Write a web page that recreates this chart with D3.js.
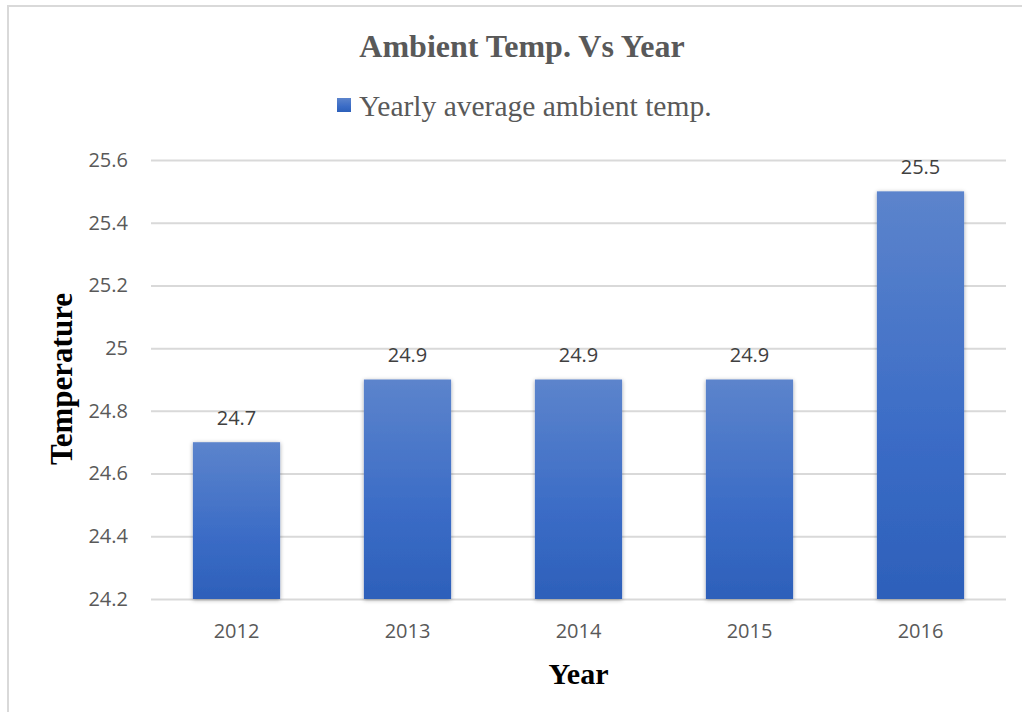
<!DOCTYPE html>
<html>
<head>
<meta charset="utf-8">
<script src="https://cdn.jsdelivr.net/npm/d3@7"></script>
<style>
  html, body { margin: 0; padding: 0; background: #fff; }
  svg { display: block; }
</style>
</head>
<body>
<svg id="chart" width="1022" height="712"></svg>
<script>
// Yearly average ambient temperature
const years = ["2012", "2013", "2014", "2015", "2016"];
const temps = [24.7, 24.9, 24.9, 24.9, 25.5];
const yTicks = [24.2, 24.4, 24.6, 24.8, 25, 25.2, 25.4, 25.6];
const seriesName = "Yearly average ambient temp.";
const chartTitle = "Ambient Temp. Vs Year";

const svg = d3.select("#chart");
const plot = { left: 151, right: 1006, top: 160, bottom: 599 };

// Outer chart frame
svg.append("rect")
  .attr("x", 8).attr("y", 6)
  .attr("width", 1040).attr("height", 740)
  .attr("fill", "none")
  .attr("stroke", "#d9d9d9")
  .attr("stroke-width", 2);

const defs = svg.append("defs");
const grad = defs.append("linearGradient")
  .attr("id", "barFill")
  .attr("x1", 0).attr("y1", 0).attr("x2", 0).attr("y2", 1);
grad.append("stop").attr("offset", "0%").attr("stop-color", "#5c84cc");
grad.append("stop").attr("offset", "60%").attr("stop-color", "#3b6cc6");
grad.append("stop").attr("offset", "100%").attr("stop-color", "#2d60ba");

const shadow = defs.append("filter")
  .attr("id", "barShadow")
  .attr("x", "-20%").attr("y", "-5%").attr("width", "140%").attr("height", "110%");
shadow.append("feDropShadow")
  .attr("dx", 0).attr("dy", 1)
  .attr("stdDeviation", 2)
  .attr("flood-color", "#000")
  .attr("flood-opacity", 0.35);

const x = d3.scaleBand()
  .domain(years)
  .range([plot.left, plot.right])
  .paddingInner(0.49)
  .paddingOuter(0.245);

const y = d3.scaleLinear()
  .domain([24.2, 25.6])
  .range([plot.bottom, plot.top]);

// Horizontal gridlines
const yAxis = d3.axisLeft(y)
  .tickValues(yTicks)
  .tickSize(-(plot.right - plot.left))
  .tickPadding(23)
  .tickFormat(d3.format("~g"));

const gy = svg.append("g")
  .attr("transform", `translate(${plot.left},0)`)
  .call(yAxis);
gy.select(".domain").remove();
gy.selectAll(".tick line")
  .attr("stroke", "#d9d9d9")
  .attr("stroke-width", 2);
gy.selectAll(".tick text")
  .attr("fill", "#595959")
  .style("font-family", "'Open Sans', sans-serif")
  .style("font-size", "20px");

// X axis labels
const xAxis = d3.axisBottom(x).tickSize(0).tickPadding(25);
const gx = svg.append("g")
  .attr("transform", `translate(0,${plot.bottom})`)
  .call(xAxis);
gx.select(".domain").remove();
gx.selectAll(".tick text")
  .attr("fill", "#595959")
  .style("font-family", "'Open Sans', sans-serif")
  .style("font-size", "20px");

// Bars
svg.append("g")
  .selectAll("rect")
  .data(temps)
  .join("rect")
  .attr("x", (d, i) => x(years[i]))
  .attr("y", d => y(d))
  .attr("width", x.bandwidth())
  .attr("height", d => y(24.2) - y(d))
  .attr("fill", "url(#barFill)")
  .attr("filter", "url(#barShadow)");

// Value labels
svg.append("g")
  .selectAll("text")
  .data(temps)
  .join("text")
  .attr("x", (d, i) => x(years[i]) + x.bandwidth() / 2)
  .attr("y", d => y(d) - 25)
  .attr("text-anchor", "middle")
  .attr("dominant-baseline", "central")
  .attr("fill", "#404040")
  .style("font-family", "'Open Sans', sans-serif")
  .style("font-size", "20px")
  .text(d => d3.format("~g")(d));

// Title
svg.append("text")
  .attr("x", 522).attr("y", 57)
  .attr("text-anchor", "middle")
  .attr("fill", "#595959")
  .style("font-family", "'Liberation Serif', 'Times New Roman', serif")
  .style("font-weight", "bold")
  .style("font-size", "32px")
  .text(chartTitle);

// Legend
const legend = svg.append("g");
legend.append("rect")
  .attr("x", 337).attr("y", 98)
  .attr("width", 14).attr("height", 14)
  .attr("fill", "url(#barFill)");
legend.append("text")
  .attr("x", 359).attr("y", 116)
  .attr("fill", "#595959")
  .style("font-family", "'Liberation Serif', 'Times New Roman', serif")
  .style("font-size", "29.5px")
  .text(seriesName);

// Axis titles
svg.append("text")
  .attr("x", x("2014") + x.bandwidth() / 2).attr("y", 684)
  .attr("text-anchor", "middle")
  .attr("fill", "#000")
  .style("font-family", "'Liberation Serif', 'Times New Roman', serif")
  .style("font-weight", "bold")
  .style("font-size", "30px")
  .text("Year");

svg.append("text")
  .attr("transform", "translate(72,379) rotate(-90)")
  .attr("text-anchor", "middle")
  .attr("fill", "#000")
  .style("font-family", "'Liberation Serif', 'Times New Roman', serif")
  .style("font-weight", "bold")
  .style("font-size", "31px")
  .text("Temperature");
</script>
</body>
</html>
